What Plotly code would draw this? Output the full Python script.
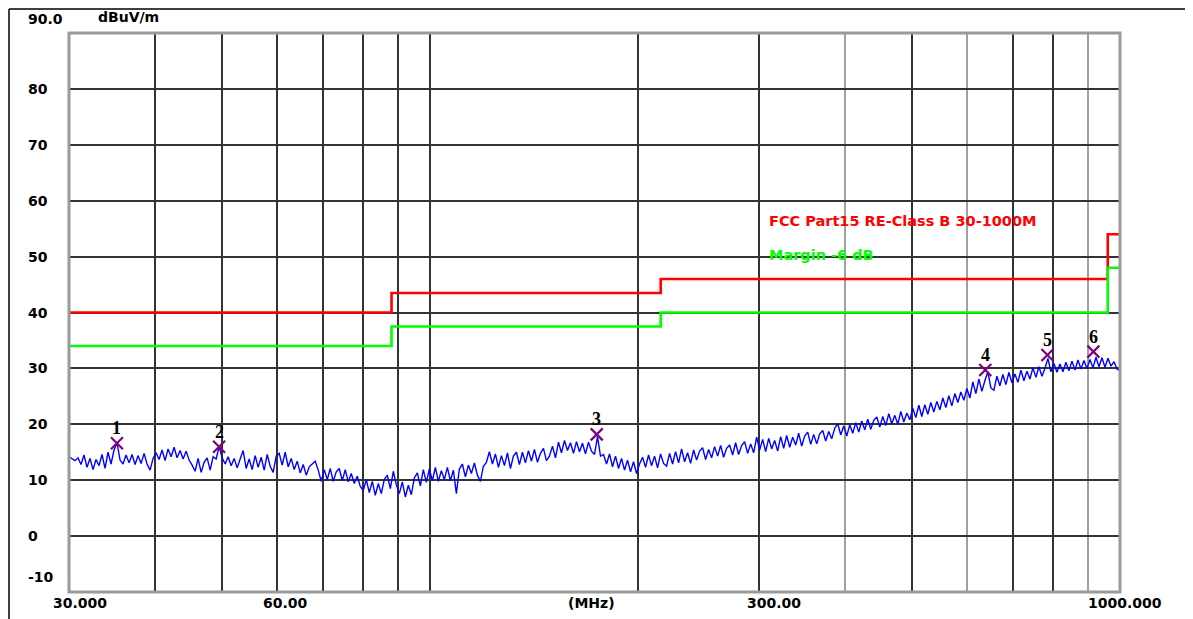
import numpy as np
import plotly.graph_objects as go

# ---- data ----
level_dbuv = [
    14.2, 13.9, 13.5, 14.0, 12.8, 14.5, 12.3, 13.9, 11.9, 13.7,
    12.6, 14.6, 12.1, 15.0, 12.9, 15.4, 16.7, 13.6, 12.9, 14.5,
    13.1, 14.6, 12.8, 14.4, 13.0, 14.8, 12.9, 11.8, 13.9, 14.9,
    13.7, 15.4, 13.5, 15.6, 14.2, 15.9, 14.0, 15.3, 13.8, 15.2,
    13.6, 12.7, 11.6, 13.9, 11.4, 13.2, 14.0, 11.8, 14.2, 13.8,
    16.0, 14.0, 12.9, 14.2, 12.6, 13.9, 12.2, 13.8, 15.3, 12.1,
    13.8, 11.9, 14.4, 12.3, 14.1, 11.8, 14.6, 12.5, 11.4, 14.3,
    14.8, 12.7, 15.0, 12.4, 13.9, 11.9, 13.4, 11.3, 12.8, 10.9,
    12.4, 12.9, 13.4, 11.8, 9.8, 11.9, 10.1, 12.1, 9.8, 11.5,
    12.1, 9.9, 11.9, 9.7, 11.2, 9.4, 10.7, 8.9, 8.2, 10.1,
    7.8, 9.8, 7.3, 9.4, 7.6, 10.1, 10.9, 8.5, 11.6, 9.2,
    7.6, 9.7, 7.0, 9.1, 7.4, 10.4, 11.3, 9.0, 11.9, 9.6,
    12.0, 9.9, 12.3, 9.8, 11.7, 10.1, 12.3, 9.9, 11.8, 7.6,
    12.0, 12.9, 10.6, 12.7, 11.2, 13.1, 10.9, 9.8, 12.5, 13.2,
    15.1, 12.9, 14.7, 12.3, 14.4, 12.6, 14.9, 12.1, 14.3, 15.0,
    12.8, 15.0, 13.1, 15.3, 13.4, 15.5, 13.2, 14.8, 15.7, 13.5,
    14.3, 16.1, 14.0, 16.8, 14.9, 17.1, 15.3, 16.7, 14.8, 16.9,
    15.1, 16.6, 14.7, 16.8, 15.2, 14.6, 17.8, 14.3, 14.6, 12.9,
    14.7, 12.4, 14.3, 12.1, 13.9, 11.8, 13.6, 11.5, 13.3, 11.2,
    12.9, 14.1, 12.3, 14.5, 12.6, 14.3, 12.2, 14.7, 13.0, 12.5,
    14.8, 12.9, 15.1, 13.1, 15.6, 13.3, 14.9, 13.0, 15.4, 13.6,
    15.2, 15.8, 13.7, 15.5, 14.0, 16.0, 14.3, 16.2, 14.1, 15.7,
    16.3, 14.5, 16.7, 14.6, 16.2, 16.9, 14.8, 16.5, 14.9, 17.7,
    15.4, 17.3, 15.1, 17.5, 15.6, 17.1, 15.2, 17.8, 15.7, 18.0,
    15.9, 17.7, 16.3, 18.4, 16.1, 17.9, 18.6, 16.4, 18.2, 16.5,
    18.3, 18.9, 17.0, 18.7, 17.4, 19.3, 20.1, 18.1, 19.7, 17.9,
    19.9, 18.4, 20.3, 18.6, 20.6, 19.0, 20.9, 19.1, 20.7, 21.3,
    19.5, 21.4, 19.8, 21.9, 20.1, 21.6, 20.0, 22.3, 20.4, 22.0,
    20.8, 22.9, 21.2, 23.4, 21.4, 23.5, 21.8, 23.9, 22.2, 24.1,
    22.6, 24.7, 23.0, 25.1, 23.3, 25.5, 23.9, 25.8, 24.3, 26.4,
    24.7, 27.6, 25.5, 28.1, 25.9, 27.8, 29.4, 26.5, 26.1, 28.6,
    26.9, 28.9, 27.1, 29.3, 27.4, 29.0, 27.5, 29.7, 27.8, 29.5,
    28.1, 30.1, 28.4, 30.3, 28.6, 30.0, 31.8, 29.4, 30.9, 29.3,
    30.8, 29.4, 31.1, 29.6, 31.3, 29.7, 31.5, 29.9, 31.4, 30.0,
    31.6, 30.1, 32.0, 30.3, 31.9, 30.2, 31.8, 30.4, 31.2, 29.9,
    29.6,
]
sweep_mhz = np.geomspace(30, 1000, len(level_dbuv))

limit_mhz = [30, 88, 216, 960, 1000]
limit_dbuv = [40, 43.5, 46, 54, 54]
margin_dbuv = [34, 37.5, 40, 48, 48]

peak_mhz = [35.2, 49.5, 174.5, 638, 785, 915]
peak_dbuv = [16.6, 16.0, 18.2, 29.7, 32.4, 33.0]
peak_labels = ["1", "2", "3", "4", "5", "6"]

y_ticks = [0, 10, 20, 30, 40, 50, 60, 70, 80]
y_tick_labels = ["0", "10", "20", "30", "40", "50", "60", "70", "80"]
x_grid_dark = [40, 50, 60, 70, 80, 90, 100, 200, 300, 500, 700, 800]
x_grid_light = [400, 600, 900]

# ---- figure ----
# page has an 8px body margin; page coords of the plot area: x 69..1120, y 33..592
OFF = 8
W, H = 1193 - OFF, 619 - OFF
L, T = 69 - OFF, 33 - OFF
R = W - (1120 - OFF)
B = H - (592 - OFF)
pw, ph = 1120 - 69, 592 - 33


def px(xp):  # page x -> paper
    return (xp - 69) / pw


def py(yp):  # page y -> paper
    return (592 - yp) / ph


fig = go.Figure()

fig.add_trace(go.Scatter(x=sweep_mhz, y=level_dbuv, mode="lines",
                         line=dict(color="#0000ff", width=1.4), hoverinfo="skip"))
fig.add_trace(go.Scatter(x=limit_mhz, y=limit_dbuv, mode="lines",
                         line=dict(color="#ff0000", width=2.6, shape="hv")))
fig.add_trace(go.Scatter(x=limit_mhz, y=margin_dbuv, mode="lines",
                         line=dict(color="#00ff00", width=2.6, shape="hv")))
fig.add_trace(go.Scatter(x=peak_mhz, y=peak_dbuv, mode="markers",
                         marker=dict(symbol="x-thin", size=12,
                                     line=dict(color="#800080", width=2.2))))

fig.update_layout(
    width=W, height=H, showlegend=False,
    margin=dict(l=L, r=R, t=T, b=B, pad=0),
    paper_bgcolor="white", plot_bgcolor="white",
    font=dict(family="DejaVu Sans", color="black"),
)
fig.update_xaxes(type="log", range=[np.log10(30), np.log10(1000)],
                 tickmode="array", tickvals=x_grid_dark, showticklabels=False,
                 showgrid=True, gridcolor="#333333", gridwidth=1.6, ticks="",
                 zeroline=False, showline=False,
                 minor=dict(tickmode="array", tickvals=x_grid_light, showgrid=True,
                            gridcolor="#a0a0a0", gridwidth=1.6, ticks=""))
fig.update_yaxes(range=[-10, 90], tickmode="array", tickvals=y_ticks,
                 showticklabels=False, showgrid=True, gridcolor="#333333",
                 gridwidth=1.6, zeroline=False, showline=False, ticks="")

# plot border
fig.add_shape(type="rect", xref="paper", yref="paper", x0=0, y0=0, x1=1, y1=1,
              line=dict(color="#9a9a9a", width=3))
# outer frame (as close to the page edge as the figure allows)
fig.add_shape(type="line", xref="paper", yref="paper", x0=px(9), x1=px(9),
              y0=py(9), y1=py(619), line=dict(color="black", width=1.5))
fig.add_shape(type="line", xref="paper", yref="paper", x0=px(1188), x1=px(1188),
              y0=py(9), y1=py(619), line=dict(color="black", width=1.5))
fig.add_shape(type="line", xref="paper", yref="paper", x0=px(9), x1=px(1188),
              y0=py(9), y1=py(9), line=dict(color="black", width=1.5))

lab_font = dict(family="DejaVu Sans", size=14, color="black", weight="bold")

# peak numbers
for f, v, t in zip(peak_mhz, peak_dbuv, peak_labels):
    fig.add_annotation(xref="x", yref="y", x=np.log10(f), y=v, yshift=15, text=t,
                       xanchor="center", yanchor="middle", showarrow=False,
                       font=dict(family="Liberation Serif", size=18, color="black",
                                 weight="bold"))

# y labels (left aligned)
for v, t in zip(y_ticks, y_tick_labels):
    fig.add_annotation(xref="paper", yref="y", x=px(26), y=v, text=t,
                       xanchor="left", yanchor="middle", showarrow=False, font=lab_font)
fig.add_annotation(xref="paper", yref="y", x=px(26), y=90, yshift=14, text="90.0",
                   xanchor="left", yanchor="middle", showarrow=False, font=lab_font)
fig.add_annotation(xref="paper", yref="y", x=px(26), y=-10, yshift=15, text="-10",
                   xanchor="left", yanchor="middle", showarrow=False, font=lab_font)
fig.add_annotation(xref="paper", yref="y", x=px(96), y=90, yshift=16, text="dBuV/m",
                   xanchor="left", yanchor="middle", showarrow=False, font=lab_font)

# x labels
x_labels = [(30, "30.000", 11), (60, "60.00", 9), (300, "300.00", 15), (1000, "1000.000", 5)]
for f, t, sh in x_labels:
    fig.add_annotation(xref="x", yref="paper", x=np.log10(f), y=0, xshift=sh, yshift=-11,
                       text=t, xanchor="center", yanchor="middle", showarrow=False,
                       font=lab_font)
fig.add_annotation(xref="paper", yref="paper", x=px(591), y=0, yshift=-11, text="(MHz)",
                   xanchor="center", yanchor="middle", showarrow=False, font=lab_font)

# limit names
fig.add_annotation(xref="paper", yref="paper", x=px(767), y=py(221),
                   text="FCC Part15 RE-Class B 30-1000M", xanchor="left", yanchor="middle",
                   showarrow=False,
                   font=dict(family="DejaVu Sans", size=14.5, color="#ff0000", weight="bold"))
fig.add_annotation(xref="paper", yref="paper", x=px(767), y=py(255),
                   text="Margin -6 dB", xanchor="left", yanchor="middle", showarrow=False,
                   font=dict(family="DejaVu Sans", size=14.5, color="#00ff00", weight="bold"))

fig.write_html("out.html")
